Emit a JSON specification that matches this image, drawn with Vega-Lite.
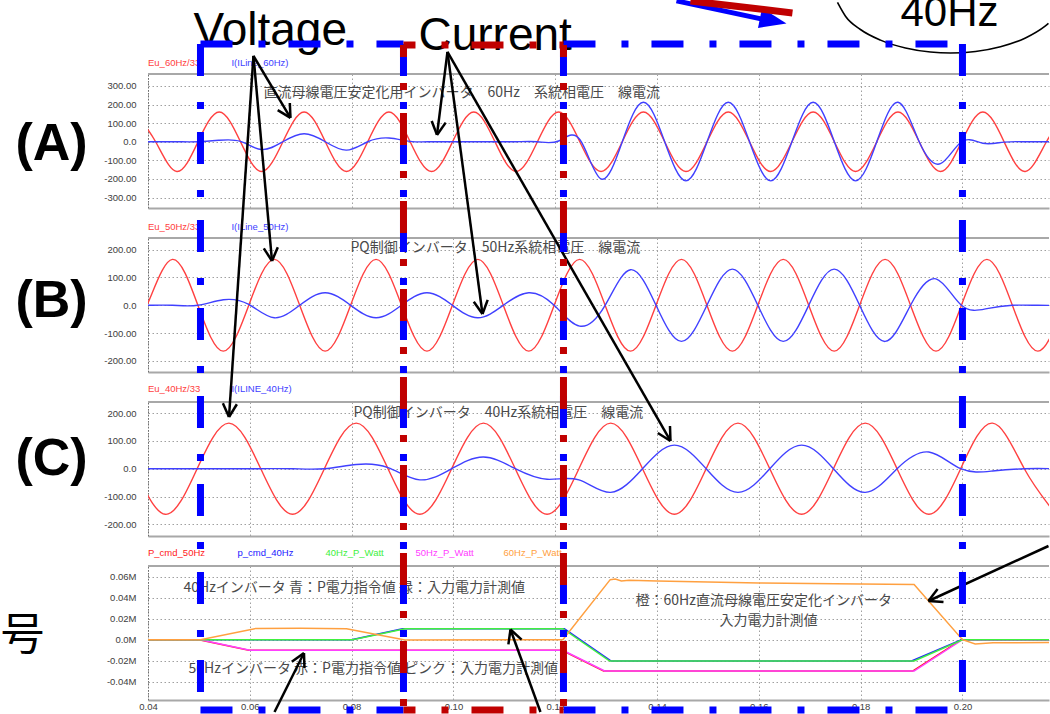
{
"$schema":"https://vega.github.io/schema/vega-lite/v6.json",
"background":"white",
"padding":{"left":0,"top":-9,"right":0,"bottom":0},
"config":{"view":{"stroke":null},"axis":{"labelFont":"Liberation Sans","labelFontSize":9.5,"labelColor":"#404040","gridColor":"#a0a0a0","gridDash":[1.5,2.5],"gridWidth":1,"labelFlush":false,"labelOverlap":false,"ticks":false}},
"datasets":{
"A":[
{"t":0.03733,"v":160,"s":"V"},{"t":0.0415,"v":0,"s":"V"},{"t":0.04567,"v":-160,"s":"V"},{"t":0.04983,"v":0,"s":"V"},{"t":0.054,"v":160,"s":"V"},{"t":0.05817,"v":0,"s":"V"},{"t":0.06233,"v":-160,"s":"V"},{"t":0.0665,"v":0,"s":"V"},{"t":0.07067,"v":160,"s":"V"},{"t":0.07483,"v":0,"s":"V"},{"t":0.079,"v":-160,"s":"V"},{"t":0.08317,"v":0,"s":"V"},{"t":0.08733,"v":160,"s":"V"},{"t":0.0915,"v":0,"s":"V"},{"t":0.09567,"v":-160,"s":"V"},{"t":0.09983,"v":0,"s":"V"},{"t":0.104,"v":160,"s":"V"},{"t":0.10817,"v":0,"s":"V"},{"t":0.11233,"v":-160,"s":"V"},{"t":0.1165,"v":0,"s":"V"},{"t":0.12067,"v":160,"s":"V"},{"t":0.12483,"v":0,"s":"V"},{"t":0.129,"v":-160,"s":"V"},{"t":0.13317,"v":0,"s":"V"},{"t":0.13733,"v":160,"s":"V"},{"t":0.1415,"v":0,"s":"V"},{"t":0.14567,"v":-160,"s":"V"},{"t":0.14983,"v":0,"s":"V"},{"t":0.154,"v":160,"s":"V"},{"t":0.15817,"v":0,"s":"V"},{"t":0.16233,"v":-160,"s":"V"},{"t":0.1665,"v":0,"s":"V"},{"t":0.17067,"v":160,"s":"V"},{"t":0.17483,"v":0,"s":"V"},{"t":0.179,"v":-160,"s":"V"},{"t":0.18317,"v":0,"s":"V"},{"t":0.18733,"v":160,"s":"V"},{"t":0.1915,"v":0,"s":"V"},{"t":0.19567,"v":-160,"s":"V"},{"t":0.19983,"v":0,"s":"V"},{"t":0.204,"v":160,"s":"V"},{"t":0.20817,"v":0,"s":"V"},{"t":0.21233,"v":-160,"s":"V"},{"t":0.2165,"v":0,"s":"V"},{"t":0.22067,"v":160,"s":"V"},
{"t":0.03733,"v":0,"s":"I"},{"t":0.0415,"v":0,"s":"I"},{"t":0.04567,"v":0,"s":"I"},{"t":0.04983,"v":0,"s":"I"},{"t":0.054,"v":8,"s":"I"},{"t":0.05817,"v":2,"s":"I"},{"t":0.06233,"v":-42,"s":"I"},{"t":0.0665,"v":0,"s":"I"},{"t":0.07067,"v":43,"s":"I"},{"t":0.07483,"v":0,"s":"I"},{"t":0.079,"v":-45,"s":"I"},{"t":0.08317,"v":0,"s":"I"},{"t":0.08733,"v":20,"s":"I"},{"t":0.0915,"v":2,"s":"I"},{"t":0.09567,"v":0,"s":"I"},{"t":0.09983,"v":0,"s":"I"},{"t":0.104,"v":0,"s":"I"},{"t":0.10817,"v":0,"s":"I"},{"t":0.11233,"v":0,"s":"I"},{"t":0.1165,"v":0,"s":"I"},{"t":0.12067,"v":4,"s":"I"},{"t":0.12483,"v":12,"s":"I"},{"t":0.129,"v":-200,"s":"I"},{"t":0.13317,"v":0,"s":"I"},{"t":0.13733,"v":212,"s":"I"},{"t":0.1415,"v":0,"s":"I"},{"t":0.14567,"v":-210,"s":"I"},{"t":0.14983,"v":0,"s":"I"},{"t":0.154,"v":212,"s":"I"},{"t":0.15817,"v":0,"s":"I"},{"t":0.16233,"v":-210,"s":"I"},{"t":0.1665,"v":0,"s":"I"},{"t":0.17067,"v":212,"s":"I"},{"t":0.17483,"v":0,"s":"I"},{"t":0.179,"v":-210,"s":"I"},{"t":0.18317,"v":0,"s":"I"},{"t":0.18733,"v":212,"s":"I"},{"t":0.1915,"v":0,"s":"I"},{"t":0.19567,"v":-118,"s":"I"},{"t":0.19983,"v":0,"s":"I"},{"t":0.204,"v":-8,"s":"I"},{"t":0.20817,"v":-2,"s":"I"},{"t":0.21233,"v":0,"s":"I"},{"t":0.2165,"v":0,"s":"I"},{"t":0.22067,"v":0,"s":"I"}
],
"B":[
{"t":0.0348,"v":-165,"s":"V"},{"t":0.0398,"v":0,"s":"V"},{"t":0.0448,"v":165,"s":"V"},{"t":0.0498,"v":0,"s":"V"},{"t":0.0548,"v":-165,"s":"V"},{"t":0.0598,"v":0,"s":"V"},{"t":0.0648,"v":165,"s":"V"},{"t":0.0698,"v":0,"s":"V"},{"t":0.0748,"v":-165,"s":"V"},{"t":0.0798,"v":0,"s":"V"},{"t":0.0848,"v":165,"s":"V"},{"t":0.0898,"v":0,"s":"V"},{"t":0.0948,"v":-165,"s":"V"},{"t":0.0998,"v":0,"s":"V"},{"t":0.1048,"v":165,"s":"V"},{"t":0.1098,"v":0,"s":"V"},{"t":0.1148,"v":-165,"s":"V"},{"t":0.1198,"v":0,"s":"V"},{"t":0.1248,"v":165,"s":"V"},{"t":0.1298,"v":0,"s":"V"},{"t":0.1348,"v":-165,"s":"V"},{"t":0.1398,"v":0,"s":"V"},{"t":0.1448,"v":165,"s":"V"},{"t":0.1498,"v":0,"s":"V"},{"t":0.1548,"v":-165,"s":"V"},{"t":0.1598,"v":0,"s":"V"},{"t":0.1648,"v":165,"s":"V"},{"t":0.1698,"v":0,"s":"V"},{"t":0.1748,"v":-165,"s":"V"},{"t":0.1798,"v":0,"s":"V"},{"t":0.1848,"v":165,"s":"V"},{"t":0.1898,"v":0,"s":"V"},{"t":0.1948,"v":-165,"s":"V"},{"t":0.1998,"v":0,"s":"V"},{"t":0.2048,"v":165,"s":"V"},{"t":0.2098,"v":0,"s":"V"},{"t":0.2148,"v":-165,"s":"V"},{"t":0.2198,"v":0,"s":"V"},
{"t":0.0348,"v":0,"s":"I"},{"t":0.0398,"v":0,"s":"I"},{"t":0.0448,"v":0,"s":"I"},{"t":0.0498,"v":0,"s":"I"},{"t":0.0548,"v":20,"s":"I"},{"t":0.0598,"v":3,"s":"I"},{"t":0.0648,"v":-45,"s":"I"},{"t":0.0698,"v":0,"s":"I"},{"t":0.0748,"v":45,"s":"I"},{"t":0.0798,"v":0,"s":"I"},{"t":0.0848,"v":-45,"s":"I"},{"t":0.0898,"v":0,"s":"I"},{"t":0.0948,"v":45,"s":"I"},{"t":0.0998,"v":0,"s":"I"},{"t":0.1048,"v":-45,"s":"I"},{"t":0.1098,"v":0,"s":"I"},{"t":0.1148,"v":45,"s":"I"},{"t":0.1198,"v":0,"s":"I"},{"t":0.1248,"v":-75,"s":"I"},{"t":0.1298,"v":0,"s":"I"},{"t":0.1348,"v":128,"s":"I"},{"t":0.1398,"v":0,"s":"I"},{"t":0.1448,"v":-130,"s":"I"},{"t":0.1498,"v":0,"s":"I"},{"t":0.1548,"v":130,"s":"I"},{"t":0.1598,"v":0,"s":"I"},{"t":0.1648,"v":-130,"s":"I"},{"t":0.1698,"v":0,"s":"I"},{"t":0.1748,"v":130,"s":"I"},{"t":0.1798,"v":0,"s":"I"},{"t":0.1848,"v":-130,"s":"I"},{"t":0.1898,"v":0,"s":"I"},{"t":0.1948,"v":95,"s":"I"},{"t":0.1998,"v":0,"s":"I"},{"t":0.2048,"v":-12,"s":"I"},{"t":0.2098,"v":0,"s":"I"},{"t":0.2148,"v":0,"s":"I"},{"t":0.2198,"v":0,"s":"I"}
],
"C":[
{"t":0.0309,"v":164,"s":"V"},{"t":0.03715,"v":0,"s":"V"},{"t":0.0434,"v":-164,"s":"V"},{"t":0.04965,"v":0,"s":"V"},{"t":0.0559,"v":164,"s":"V"},{"t":0.06215,"v":0,"s":"V"},{"t":0.0684,"v":-164,"s":"V"},{"t":0.07465,"v":0,"s":"V"},{"t":0.0809,"v":164,"s":"V"},{"t":0.08715,"v":0,"s":"V"},{"t":0.0934,"v":-164,"s":"V"},{"t":0.09965,"v":0,"s":"V"},{"t":0.1059,"v":164,"s":"V"},{"t":0.11215,"v":0,"s":"V"},{"t":0.1184,"v":-164,"s":"V"},{"t":0.12465,"v":0,"s":"V"},{"t":0.1309,"v":164,"s":"V"},{"t":0.13715,"v":0,"s":"V"},{"t":0.1434,"v":-164,"s":"V"},{"t":0.14965,"v":0,"s":"V"},{"t":0.1559,"v":164,"s":"V"},{"t":0.16215,"v":0,"s":"V"},{"t":0.1684,"v":-164,"s":"V"},{"t":0.17465,"v":0,"s":"V"},{"t":0.1809,"v":164,"s":"V"},{"t":0.18715,"v":0,"s":"V"},{"t":0.1934,"v":-164,"s":"V"},{"t":0.19965,"v":0,"s":"V"},{"t":0.2059,"v":164,"s":"V"},{"t":0.21215,"v":0,"s":"V"},{"t":0.2184,"v":-164,"s":"V"},
{"t":0.0309,"v":0,"s":"I"},{"t":0.03715,"v":0,"s":"I"},{"t":0.0434,"v":0,"s":"I"},{"t":0.04965,"v":0,"s":"I"},{"t":0.0559,"v":0,"s":"I"},{"t":0.06215,"v":0,"s":"I"},{"t":0.0684,"v":0,"s":"I"},{"t":0.07465,"v":0,"s":"I"},{"t":0.0809,"v":15,"s":"I"},{"t":0.08715,"v":4,"s":"I"},{"t":0.0934,"v":-40,"s":"I"},{"t":0.09965,"v":0,"s":"I"},{"t":0.1059,"v":42,"s":"I"},{"t":0.11215,"v":0,"s":"I"},{"t":0.1184,"v":-38,"s":"I"},{"t":0.12465,"v":-40,"s":"I"},{"t":0.1309,"v":-85,"s":"I"},{"t":0.13715,"v":0,"s":"I"},{"t":0.1434,"v":85,"s":"I"},{"t":0.14965,"v":0,"s":"I"},{"t":0.1559,"v":-85,"s":"I"},{"t":0.16215,"v":0,"s":"I"},{"t":0.1684,"v":85,"s":"I"},{"t":0.17465,"v":0,"s":"I"},{"t":0.1809,"v":-85,"s":"I"},{"t":0.18715,"v":0,"s":"I"},{"t":0.1934,"v":60,"s":"I"},{"t":0.19965,"v":0,"s":"I"},{"t":0.2059,"v":-8,"s":"I"},{"t":0.21215,"v":0,"s":"I"},{"t":0.2184,"v":0,"s":"I"}
],
"D":[
{"t":0.038,"v":0,"s":"P_cmd_50Hz"},{"t":0.05,"v":0,"s":"P_cmd_50Hz"},{"t":0.0598,"v":-0.01,"s":"P_cmd_50Hz"},{"t":0.1213,"v":-0.01,"s":"P_cmd_50Hz"},{"t":0.1295,"v":-0.0298,"s":"P_cmd_50Hz"},{"t":0.1902,"v":-0.0298,"s":"P_cmd_50Hz"},{"t":0.1998,"v":0,"s":"P_cmd_50Hz"},{"t":0.22,"v":0,"s":"P_cmd_50Hz"},
{"t":0.038,"v":0,"s":"p_cmd_40Hz"},{"t":0.08,"v":0,"s":"p_cmd_40Hz"},{"t":0.09,"v":0.0105,"s":"p_cmd_40Hz"},{"t":0.1218,"v":0.0105,"s":"p_cmd_40Hz"},{"t":0.131,"v":-0.0203,"s":"p_cmd_40Hz"},{"t":0.19,"v":-0.0203,"s":"p_cmd_40Hz"},{"t":0.1998,"v":0,"s":"p_cmd_40Hz"},{"t":0.22,"v":0,"s":"p_cmd_40Hz"},
{"t":0.038,"v":0,"s":"50Hz_P_Watt"},{"t":0.0503,"v":0,"s":"50Hz_P_Watt"},{"t":0.06,"v":-0.01,"s":"50Hz_P_Watt"},{"t":0.1215,"v":-0.01,"s":"50Hz_P_Watt"},{"t":0.1297,"v":-0.0298,"s":"50Hz_P_Watt"},{"t":0.1905,"v":-0.0298,"s":"50Hz_P_Watt"},{"t":0.2,"v":0,"s":"50Hz_P_Watt"},{"t":0.22,"v":0,"s":"50Hz_P_Watt"},
{"t":0.038,"v":0,"s":"40Hz_P_Watt"},{"t":0.0802,"v":0,"s":"40Hz_P_Watt"},{"t":0.0905,"v":0.0105,"s":"40Hz_P_Watt"},{"t":0.1215,"v":0.0105,"s":"40Hz_P_Watt"},{"t":0.1307,"v":-0.0203,"s":"40Hz_P_Watt"},{"t":0.1905,"v":-0.0203,"s":"40Hz_P_Watt"},{"t":0.2,"v":0,"s":"40Hz_P_Watt"},{"t":0.22,"v":0,"s":"40Hz_P_Watt"},
{"t":0.038,"v":0,"s":"60Hz_P_Watt"},{"t":0.0503,"v":0,"s":"60Hz_P_Watt"},{"t":0.0612,"v":0.0108,"s":"60Hz_P_Watt"},{"t":0.07,"v":0.011,"s":"60Hz_P_Watt"},{"t":0.079,"v":0.0105,"s":"60Hz_P_Watt"},{"t":0.0905,"v":-0.0003,"s":"60Hz_P_Watt"},{"t":0.11,"v":0,"s":"60Hz_P_Watt"},{"t":0.1215,"v":0,"s":"60Hz_P_Watt"},{"t":0.1308,"v":0.0572,"s":"60Hz_P_Watt"},{"t":0.1318,"v":0.0578,"s":"60Hz_P_Watt"},{"t":0.133,"v":0.056,"s":"60Hz_P_Watt"},{"t":0.1345,"v":0.0566,"s":"60Hz_P_Watt"},{"t":0.14,"v":0.056,"s":"60Hz_P_Watt"},{"t":0.15,"v":0.055,"s":"60Hz_P_Watt"},{"t":0.16,"v":0.054,"s":"60Hz_P_Watt"},{"t":0.17,"v":0.0535,"s":"60Hz_P_Watt"},{"t":0.18,"v":0.053,"s":"60Hz_P_Watt"},{"t":0.1905,"v":0.0525,"s":"60Hz_P_Watt"},{"t":0.2,"v":0,"s":"60Hz_P_Watt"},{"t":0.2025,"v":-0.004,"s":"60Hz_P_Watt"},{"t":0.206,"v":-0.003,"s":"60Hz_P_Watt"},{"t":0.22,"v":-0.0025,"s":"60Hz_P_Watt"}
]
},
"bounds":"flush",
"spacing":30,
"resolve":{"scale":{"color":"independent"}},
"vconcat":[
{
"width":901,"height":134,
"encoding":{
"x":{"field":"t","type":"quantitative","title":null,"scale":{"domain":[0.04,0.217],"nice":false,"zero":false},"axis":{"values":[0.04,0.06,0.08,0.1,0.12,0.14,0.16,0.18,0.2],"labels":false,"domain":true,"domainColor":"#a8a8a8","domainWidth":2,"grid":true}},
"y":{"field":"v","type":"quantitative","title":null,"scale":{"domain":[-356,364],"nice":false,"zero":false},"axis":{"values":[-300,-200,-100,0,100,200,300],"labelExpr":"datum.value == 0 ? '0.0' : (datum.value < 0 ? '-' : '') + format(abs(datum.value), '.2f')","domainDash":[1.5,1.5],"domainColor":"#707070","grid":true,"labelPadding":12}}
},
"layer":[
{"data":{"values":[{"t":0.04,"t2":0.217,"v":364}]},"mark":{"type":"rule","color":"#a8a8a8","strokeWidth":2},"encoding":{"x2":{"field":"t2"}}},
{"data":{"name":"A"},"mark":{"type":"line","interpolate":"natural","clip":true,"strokeWidth":1.4},"encoding":{"color":{"field":"s","type":"nominal","scale":{"domain":["V","I"],"range":["#ff4040","#4040ff"]},"legend":null}}},
{"data":{"values":[{"t":0.04,"v":423,"s":"V","n":"Eu_60Hz/33"},{"t":0.0564,"v":423,"s":"I","n":"I(ILine_60Hz)"}]},"mark":{"type":"text","align":"left","baseline":"middle","font":"Liberation Sans","fontSize":9.5},"encoding":{"text":{"field":"n"},"color":{"field":"s","type":"nominal","legend":null}}},
{"data":{"values":[{"t":0.06269,"v":262,"n":"直流母線電圧安定化用インバータ　60Hz　系統相電圧　線電流"}]},"mark":{"type":"text","align":"left","baseline":"middle","font":"Noto Sans CJK JP","fontSize":14,"color":"#4a4a4a"},"encoding":{"text":{"field":"n"}}}
]
},
{
"width":901,"height":134,
"encoding":{
"x":{"field":"t","type":"quantitative","title":null,"scale":{"domain":[0.04,0.217],"nice":false,"zero":false},"axis":{"values":[0.04,0.06,0.08,0.1,0.12,0.14,0.16,0.18,0.2],"labels":false,"domain":true,"domainColor":"#a8a8a8","domainWidth":2,"grid":true}},
"y":{"field":"v","type":"quantitative","title":null,"scale":{"domain":[-240,242],"nice":false,"zero":false},"axis":{"values":[-200,-100,0,100,200],"labelExpr":"datum.value == 0 ? '0.0' : (datum.value < 0 ? '-' : '') + format(abs(datum.value), '.2f')","domainDash":[1.5,1.5],"domainColor":"#707070","grid":true,"labelPadding":12}}
},
"layer":[
{"data":{"values":[{"t":0.04,"t2":0.217,"v":242}]},"mark":{"type":"rule","color":"#a8a8a8","strokeWidth":2},"encoding":{"x2":{"field":"t2"}}},
{"data":{"name":"B"},"mark":{"type":"line","interpolate":"natural","clip":true,"strokeWidth":1.4},"encoding":{"color":{"field":"s","type":"nominal","scale":{"domain":["V","I"],"range":["#ff4040","#4040ff"]},"legend":null}}},
{"data":{"values":[{"t":0.04,"v":281.6,"s":"V","n":"Eu_50Hz/33"},{"t":0.0564,"v":281.6,"s":"I","n":"I(ILine_50Hz)"}]},"mark":{"type":"text","align":"left","baseline":"middle","font":"Liberation Sans","fontSize":9.5},"encoding":{"text":{"field":"n"},"color":{"field":"s","type":"nominal","legend":null}}},
{"data":{"values":[{"t":0.07978,"v":206,"n":"PQ制御インバータ　50Hz系統相電圧　線電流"}]},"mark":{"type":"text","align":"left","baseline":"middle","font":"Noto Sans CJK JP","fontSize":14,"color":"#4a4a4a"},"encoding":{"text":{"field":"n"}}}
]
},
{
"width":901,"height":134,
"encoding":{
"x":{"field":"t","type":"quantitative","title":null,"scale":{"domain":[0.04,0.217],"nice":false,"zero":false},"axis":{"values":[0.04,0.06,0.08,0.1,0.12,0.14,0.16,0.18,0.2],"labels":false,"domain":true,"domainColor":"#a8a8a8","domainWidth":2,"grid":true}},
"y":{"field":"v","type":"quantitative","title":null,"scale":{"domain":[-242,240],"nice":false,"zero":false},"axis":{"values":[-200,-100,0,100,200],"labelExpr":"datum.value == 0 ? '0.0' : (datum.value < 0 ? '-' : '') + format(abs(datum.value), '.2f')","domainDash":[1.5,1.5],"domainColor":"#707070","grid":true,"labelPadding":12}}
},
"layer":[
{"data":{"values":[{"t":0.04,"t2":0.217,"v":240}]},"mark":{"type":"rule","color":"#a8a8a8","strokeWidth":2},"encoding":{"x2":{"field":"t2"}}},
{"data":{"name":"C"},"mark":{"type":"line","interpolate":"natural","clip":true,"strokeWidth":1.4},"encoding":{"color":{"field":"s","type":"nominal","scale":{"domain":["V","I"],"range":["#ff4040","#4040ff"]},"legend":null}}},
{"data":{"values":[{"t":0.04,"v":286.8,"s":"V","n":"Eu_40Hz/33"},{"t":0.0564,"v":286.8,"s":"I","n":"I(ILINE_40Hz)"}]},"mark":{"type":"text","align":"left","baseline":"middle","font":"Liberation Sans","fontSize":9.5},"encoding":{"text":{"field":"n"},"color":{"field":"s","type":"nominal","legend":null}}},
{"data":{"values":[{"t":0.08037,"v":200,"n":"PQ制御インバータ　40Hz系統相電圧　線電流"}]},"mark":{"type":"text","align":"left","baseline":"middle","font":"Noto Sans CJK JP","fontSize":14,"color":"#4a4a4a"},"encoding":{"text":{"field":"n"}}}
]
},
{
"width":901,"height":134,
"encoding":{
"x":{"field":"t","type":"quantitative","title":null,"scale":{"domain":[0.04,0.217],"nice":false,"zero":false},"axis":{"values":[0.04,0.06,0.08,0.1,0.12,0.14,0.16,0.18,0.2],"format":".2f","labelPadding":1,"domain":true,"domainColor":"#a8a8a8","domainWidth":2,"grid":true}},
"y":{"field":"v","type":"quantitative","title":null,"scale":{"domain":[-0.0574,0.0702],"nice":false,"zero":false},"axis":{"values":[-0.04,-0.02,0,0.02,0.04,0.06],"labelExpr":"datum.value == 0 ? '0.0M' : (datum.value < 0 ? '-' : '') + format(abs(datum.value), '.2f') + 'M'","domainDash":[1.5,1.5],"domainColor":"#707070","grid":true,"labelPadding":12}}
},
"layer":[
{"data":{"values":[{"t":0.04,"t2":0.217,"v":0.0702}]},"mark":{"type":"rule","color":"#a8a8a8","strokeWidth":2},"encoding":{"x2":{"field":"t2"}}},
{"data":{"name":"D"},"mark":{"type":"line","clip":true,"strokeWidth":1.5},"encoding":{"color":{"field":"s","type":"nominal","scale":{"domain":["P_cmd_50Hz","p_cmd_40Hz","50Hz_P_Watt","40Hz_P_Watt","60Hz_P_Watt"],"range":["#ff2020","#2020ff","#ff40ff","#40f040","#ffa040"]},"legend":null}}},
{"data":{"values":[{"t":0.04,"v":0.08258,"s":"P_cmd_50Hz"},{"t":0.05758,"v":0.08258,"s":"p_cmd_40Hz"},{"t":0.07487,"v":0.08258,"s":"40Hz_P_Watt"},{"t":0.09255,"v":0.08258,"s":"50Hz_P_Watt"},{"t":0.10984,"v":0.08258,"s":"60Hz_P_Watt"}]},"mark":{"type":"text","align":"left","baseline":"middle","font":"Liberation Sans","fontSize":9.5},"encoding":{"text":{"field":"s"},"color":{"field":"s","type":"nominal","legend":null}}},
{"data":{"values":[{"t":0.04697,"v":0.04925,"n":"40Hzインバータ 青：P電力指令値 緑：入力電力計測値"},{"t":0.04796,"v":-0.02742,"n":"50Hzインバータ 赤：P電力指令値 ピンク：入力電力計測値"},{"t":0.13577,"v":0.03687,"n":"橙：60Hz直流母線電圧安定化インバータ"},{"t":0.15227,"v":0.01782,"n":"入力電力計測値"}]},"mark":{"type":"text","align":"left","baseline":"middle","font":"Noto Sans CJK JP","fontSize":14,"color":"#4a4a4a"},"encoding":{"text":{"field":"n"}}},
{"data":{"values":[{"t":0.04894,"v":0.56639,"n":"Voltage"},{"t":0.09314,"v":0.56163,"n":"Current"}]},"mark":{"type":"text","align":"left","baseline":"alphabetic","font":"Liberation Sans","fontSize":46,"color":"#000000"},"encoding":{"text":{"field":"n"}}},
{"data":{"values":[{"t":0.18782,"v":0.58449,"n":"40Hz"}]},"mark":{"type":"text","align":"left","baseline":"alphabetic","font":"Liberation Sans","fontSize":42,"color":"#000000"},"encoding":{"text":{"field":"n"}}},
{"data":{"values":[{"t":0.02104,"v":0.47211,"n":"(A)"},{"t":0.02104,"v":0.32258,"n":"(B)"},{"t":0.02104,"v":0.17211,"n":"(C)"}]},"mark":{"type":"text","align":"center","baseline":"middle","font":"Liberation Sans","fontWeight":"bold","fontSize":52,"color":"#000000"},"encoding":{"text":{"field":"n"}}},
{"data":{"values":[{"t":0.011025,"v":0.00306,"n":"号"}]},"mark":{"type":"text","align":"left","baseline":"middle","font":"Noto Sans CJK JP","fontSize":44,"color":"#000000"},"encoding":{"text":{"field":"n"}}},
{"data":{"values":[{"t":0.17545,"v":0.60687},{"t":0.17702,"v":0.59372},{"t":0.17996,"v":0.58106},{"t":0.18389,"v":0.57096},{"t":0.1888,"v":0.56344},{"t":0.19371,"v":0.55963},{"t":0.19764,"v":0.55877},{"t":0.20256,"v":0.5602},{"t":0.20747,"v":0.56468},{"t":0.21238,"v":0.57306},{"t":0.2163,"v":0.58458},{"t":0.2169,"v":0.58696}]},"mark":{"type":"line","interpolate":"monotone","color":"#000000","strokeWidth":1.6},"encoding":{}},
{"data":{"values":[
{"t":0.06072,"v":0.55591,"t2":0.06799,"v2":0.49687},{"t":0.06072,"v":0.55591,"t2":0.06436,"v2":0.36068},{"t":0.06072,"v":0.55591,"t2":0.05591,"v2":0.21211},
{"t":0.09883,"v":0.55972,"t2":0.09677,"v2":0.48068},{"t":0.09883,"v":0.55972,"t2":0.10571,"v2":0.3102},{"t":0.09883,"v":0.55972,"t2":0.14264,"v2":0.18925},
{"t":0.06485,"v":-0.06885,"t2":0.07064,"v2":-0.01266},{"t":0.1171,"v":-0.06885,"t2":0.11121,"v2":0.00972},{"t":0.2169,"v":0.08925,"t2":0.19332,"v2":0.03687},
{"t":0.06799,"v":0.49687,"t2":0.06786,"v2":0.51115},{"t":0.06799,"v":0.49687,"t2":0.06548,"v2":0.5043},
{"t":0.06436,"v":0.36068,"t2":0.0655,"v2":0.37382},{"t":0.06436,"v":0.36068,"t2":0.06275,"v2":0.37268},
{"t":0.05591,"v":0.21211,"t2":0.05746,"v2":0.2242},{"t":0.05591,"v":0.21211,"t2":0.05471,"v2":0.22515},
{"t":0.09677,"v":0.48068,"t2":0.09848,"v2":0.49239},{"t":0.09677,"v":0.48068,"t2":0.09573,"v2":0.49401},
{"t":0.10571,"v":0.3102,"t2":0.10673,"v2":0.32363},{"t":0.10571,"v":0.3102,"t2":0.104,"v2":0.32182},
{"t":0.14264,"v":0.18925,"t2":0.14254,"v2":0.20353},{"t":0.14264,"v":0.18925,"t2":0.14015,"v2":0.19687},
{"t":0.07064,"v":-0.01266,"t2":0.06825,"v2":-0.02104},{"t":0.07064,"v":-0.01266,"t2":0.07074,"v2":-0.02694},
{"t":0.11121,"v":0.00972,"t2":0.1108,"v2":-0.00437},{"t":0.11121,"v":0.00972,"t2":0.11339,"v2":0.0001},
{"t":0.19332,"v":0.03687,"t2":0.19627,"v2":0.03601},{"t":0.19332,"v":0.03687,"t2":0.19511,"v2":0.0482}
]},"mark":{"type":"rule","color":"#000000","strokeWidth":2.5},"encoding":{"x2":{"field":"t2"},"y2":{"field":"v2"}}},
{"data":{"values":[{"t":0.14382,"v":0.6083,"t2":0.16189,"v2":0.58973}]},"mark":{"type":"rule","color":"#0000ff","strokeWidth":5},"encoding":{"x2":{"field":"t2"},"y2":{"field":"v2"}}},
{"data":{"values":[{"t":0.16283,"v":0.58944}]},"mark":{"type":"point","shape":"M 1 0 L -1 -0.75 L -1 0.75 Z","filled":true,"size":729,"angle":11.6,"color":"#0000ff","opacity":1,"strokeWidth":0},"encoding":{}},
{"data":{"values":[{"t":0.14657,"v":0.6083,"t2":0.1666,"v2":0.59687}]},"mark":{"type":"rule","color":"#c00000","strokeWidth":7},"encoding":{"x2":{"field":"t2"},"y2":{"field":"v2"}}},
{"data":{"values":[
{"t":0.05031,"v":0.56735,"t2":0.09019,"v2":0.56735},{"t":0.05031,"v":-0.06694,"t2":0.09019,"v2":-0.06694},{"t":0.05031,"v":0.56735,"t2":0.05031,"v2":-0.06694},{"t":0.09019,"v":0.56735,"t2":0.09019,"v2":-0.06694},
{"t":0.12162,"v":0.56735,"t2":0.2,"v2":0.56735},{"t":0.12162,"v":-0.06694,"t2":0.2,"v2":-0.06694},{"t":0.12162,"v":0.56735,"t2":0.12162,"v2":-0.06694},{"t":0.2,"v":0.56735,"t2":0.2,"v2":-0.06694}
]},"mark":{"type":"rule","color":"#0000ff","strokeWidth":7,"strokeDash":[32,26,7,23],"strokeCap":"butt"},"encoding":{"x2":{"field":"t2"},"y2":{"field":"v2"}}},
{"data":{"values":[
{"t":0.09019,"v":0.5664,"t2":0.12162,"v2":0.5664},{"t":0.09019,"v":-0.06694,"t2":0.12162,"v2":-0.06694},{"t":0.09019,"v":0.5664,"t2":0.09019,"v2":-0.06694},{"t":0.12162,"v":0.5664,"t2":0.12162,"v2":-0.06694}
]},"mark":{"type":"rule","color":"#c00000","strokeWidth":7,"strokeDash":[32,26,7,23],"strokeDashOffset":20,"strokeCap":"butt"},"encoding":{"x2":{"field":"t2"},"y2":{"field":"v2"}}}
]
}
]
}
